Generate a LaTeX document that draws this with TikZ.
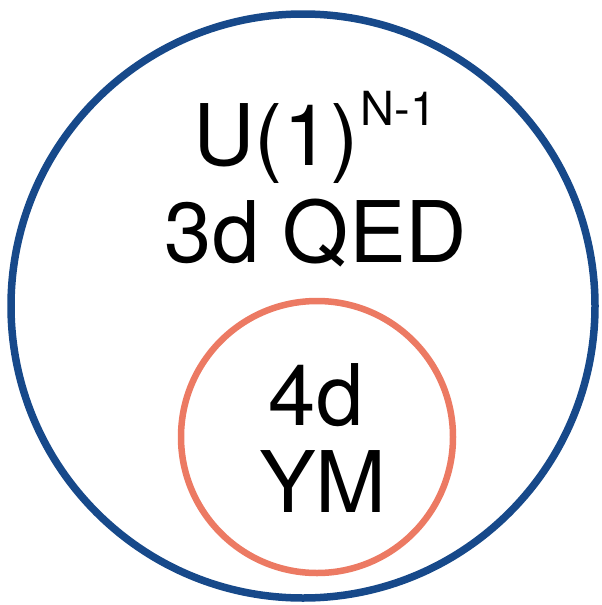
\documentclass[tikz,border=0pt]{standalone}
\usepackage{fontspec}
\setmainfont{TeX Gyre Heros}
\definecolor{bigblue}{HTML}{17498A}
\definecolor{coral}{HTML}{EC7A63}
\begin{document}
\begin{tikzpicture}[x=1pt,y=-1pt,
  lbl/.style={anchor=base,inner sep=0pt,font=\fontsize{85}{100}\selectfont}]
\useasboundingbox (0,0) rectangle (602,605);
\draw[bigblue,line width=7.5pt] (303,306) circle[radius=292];
\draw[coral,line width=6.5pt] (317,437) circle[radius=136];
\node[lbl] (t1) at (315,165) {U(1)\kern2pt\raisebox{40pt}{\fontsize{47}{55}\selectfont N-1}};
\node[lbl] (t2) at (316,262) {3d QED};
\node[lbl] (t3) at (316,425) {4d};
\node[lbl] (t4) at (323,512) {YM};
\end{tikzpicture}
\end{document}
